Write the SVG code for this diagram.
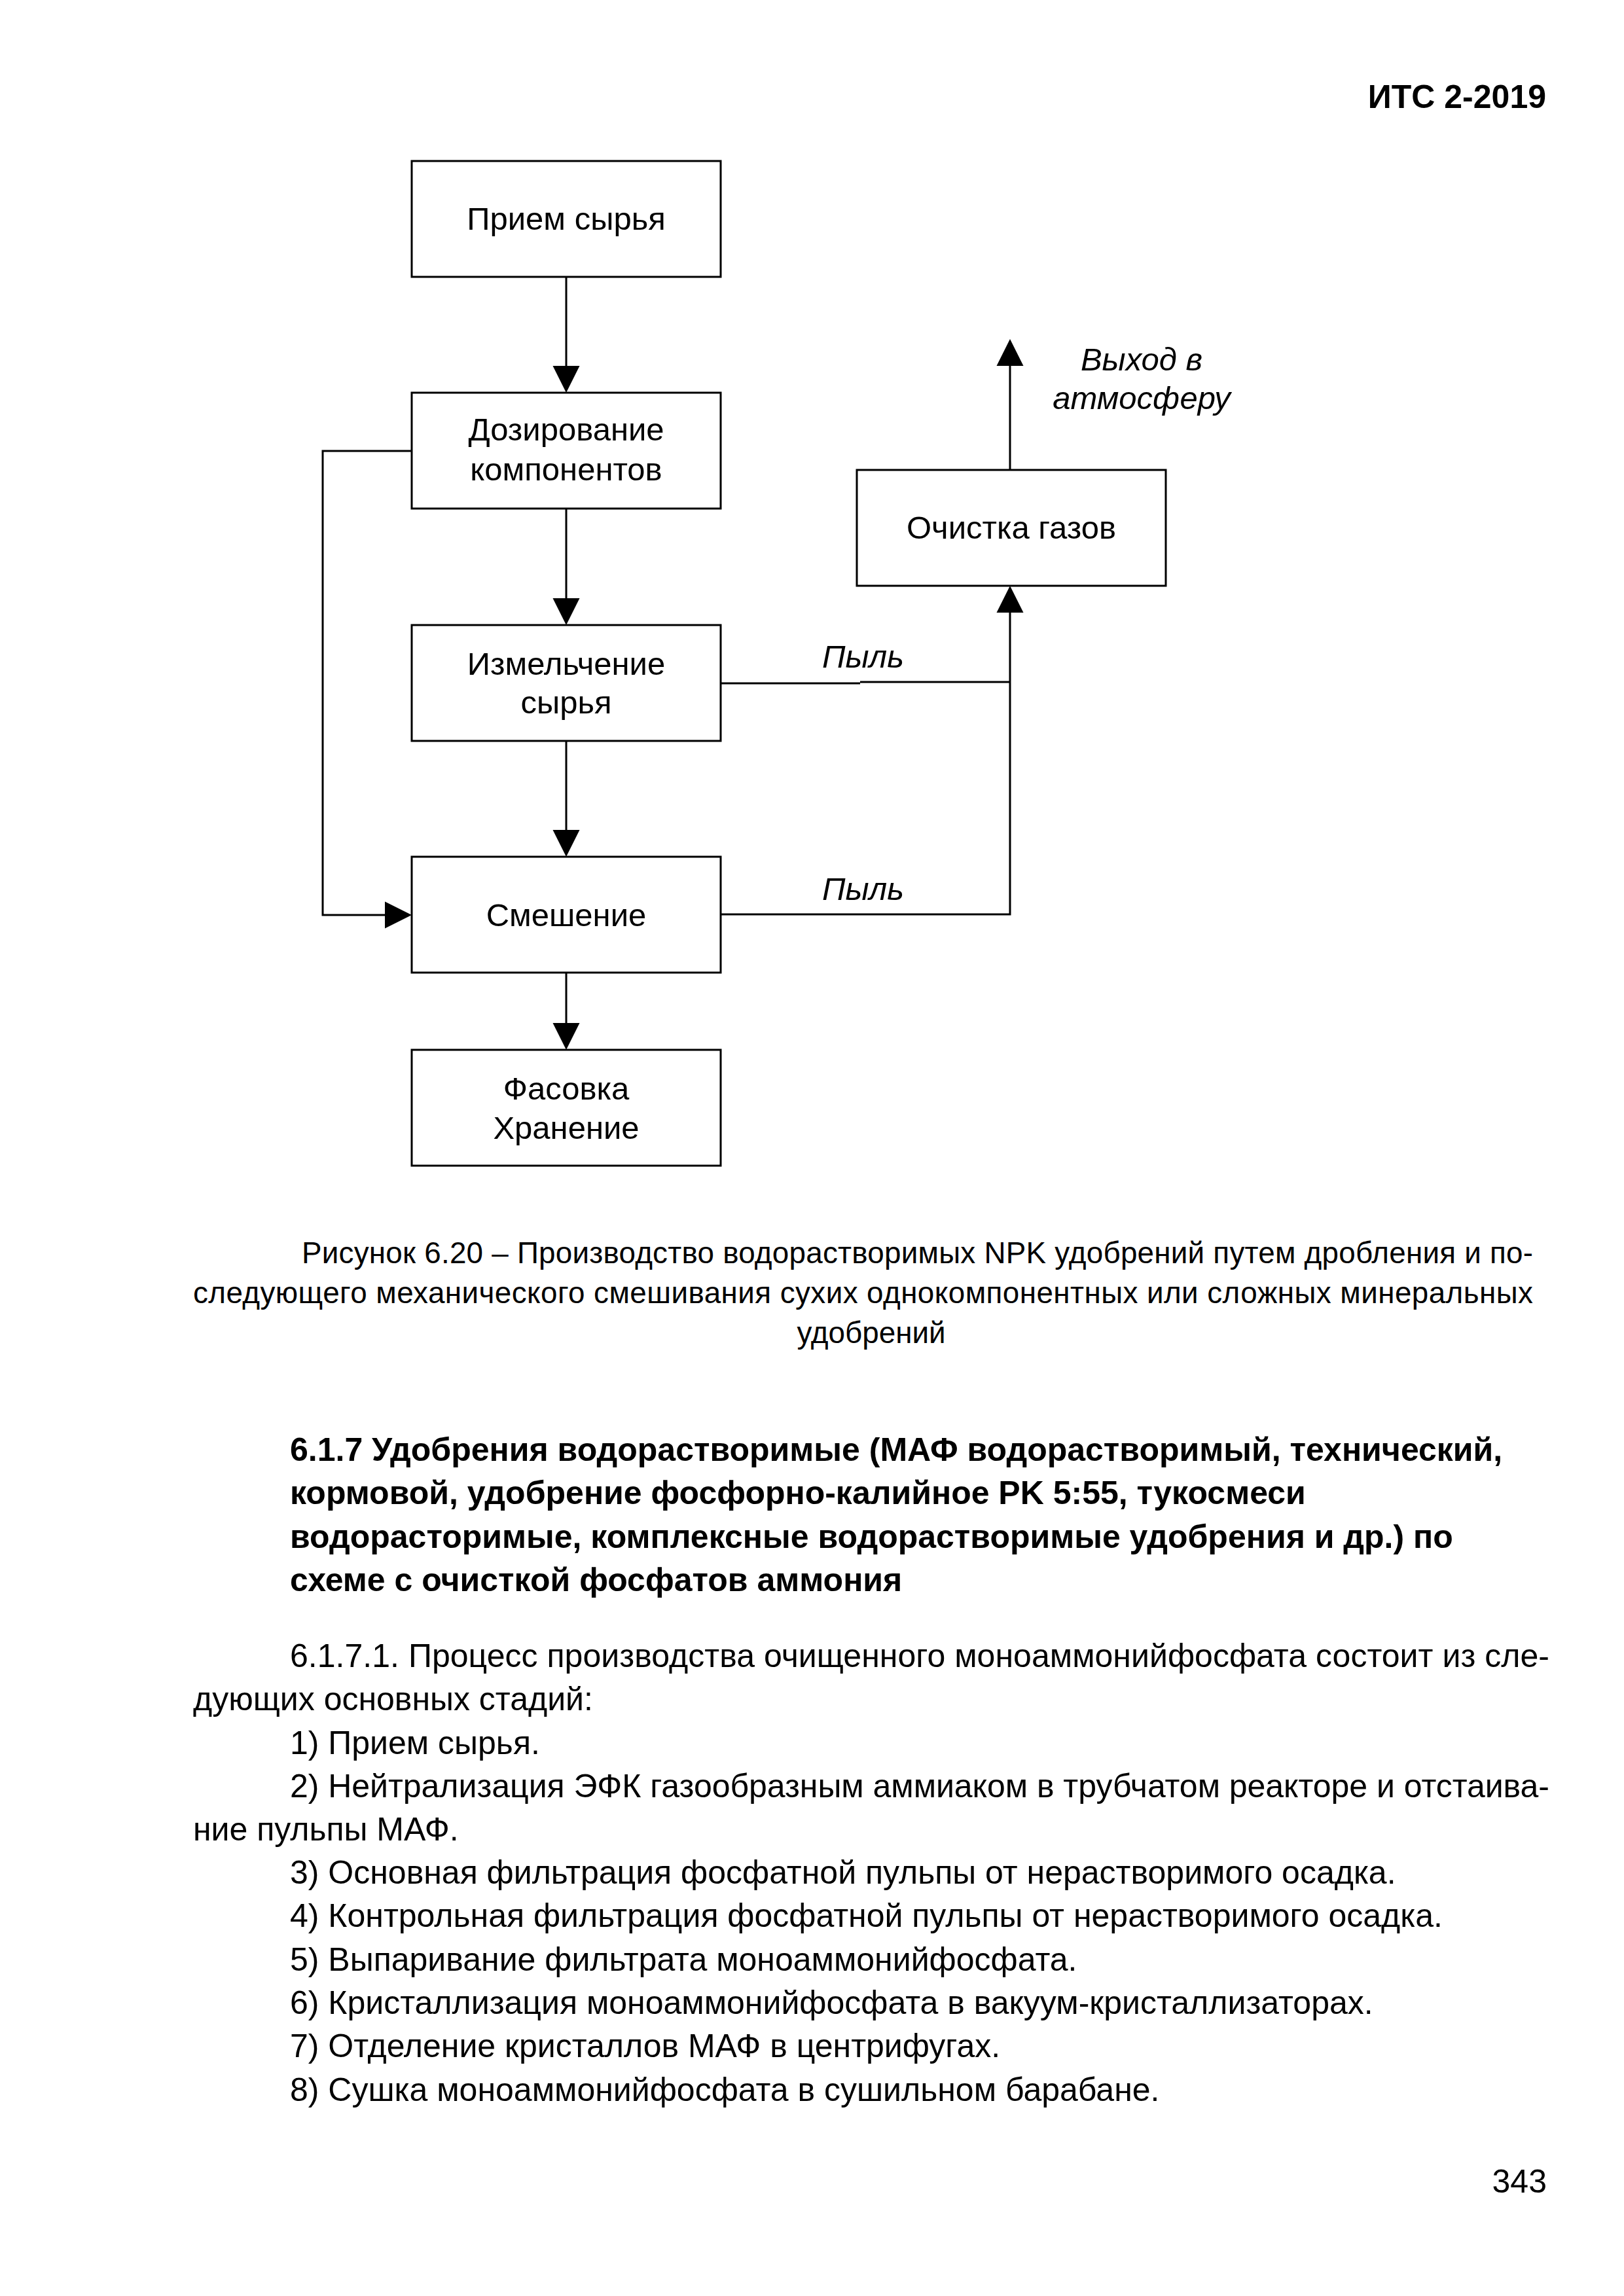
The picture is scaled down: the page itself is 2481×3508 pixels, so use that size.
<svg xmlns="http://www.w3.org/2000/svg" width="2481" height="3508" viewBox="0 0 2481 3508">
<style>
text{font-family:"Liberation Sans",Arial,sans-serif;fill:#000}
.box{fill:#fff;stroke:#000;stroke-width:3}
.n{font-size:49px;text-anchor:middle}
.lbl{font-size:49px;font-style:italic}
.conn{fill:none;stroke:#000;stroke-width:3}
.hdr{font-size:50px;font-weight:bold}
.cap{font-size:45.8px}
.body{font-size:50px}
</style>
<defs>
<marker id="ah" markerUnits="userSpaceOnUse" markerWidth="42" markerHeight="42" refX="0" refY="20.5" orient="auto" viewBox="0 0 42 41">
<path d="M0,0 L41,20.5 L0,41 z" fill="#000"/>
</marker>
</defs>
<rect width="2481" height="3508" fill="#fff"/>
<text class="hdr" x="2362" y="165" text-anchor="end">ИТС 2-2019</text>

<g id="connectors">
<line class="conn" x1="865" y1="423" x2="865" y2="559" marker-end="url(#ah)"/>
<line class="conn" x1="865" y1="777" x2="865" y2="914" marker-end="url(#ah)"/>
<line class="conn" x1="865" y1="1132" x2="865" y2="1268" marker-end="url(#ah)"/>
<line class="conn" x1="865" y1="1486" x2="865" y2="1563" marker-end="url(#ah)"/>
<line class="conn" x1="1543" y1="718" x2="1543" y2="559" marker-end="url(#ah)"/>
<path class="conn" d="M629,689 H493 V1398 H588" marker-end="url(#ah)"/>
<path class="conn" d="M1101,1044 H1314"/>
<path class="conn" d="M1314,1042 H1543"/>
<path class="conn" d="M1101,1397 H1543 V936" marker-end="url(#ah)"/>
<text class="lbl" x="1256" y="1020">Пыль</text>
<text class="lbl" x="1256" y="1375">Пыль</text>
<text class="lbl" x="1744" y="566" text-anchor="middle">Выход в</text>
<text class="lbl" x="1744" y="625" text-anchor="middle">атмосферу</text>
</g>

<g id="n1"><rect class="box" x="629" y="246" width="472" height="177"/><text class="n" x="865" y="351">Прием сырья</text></g>
<g id="n2"><rect class="box" x="629" y="600" width="472" height="177"/><text class="n" x="865" y="673">Дозирование</text><text class="n" x="865" y="734">компонентов</text></g>
<g id="n3"><rect class="box" x="629" y="955" width="472" height="177"/><text class="n" x="865" y="1031">Измельчение</text><text class="n" x="865" y="1090">сырья</text></g>
<g id="n4"><rect class="box" x="629" y="1309" width="472" height="177"/><text class="n" x="865" y="1415">Смешение</text></g>
<g id="n5"><rect class="box" x="629" y="1604" width="472" height="177"/><text class="n" x="865" y="1680">Фасовка</text><text class="n" x="865" y="1740">Хранение</text></g>
<g id="n6"><rect class="box" x="1309" y="718" width="472" height="177"/><text class="n" x="1545" y="823">Очистка газов</text></g>

<g id="caption">
<text class="cap" x="461" y="1930" textLength="1881" lengthAdjust="spacing">Рисунок 6.20 – Производство водорастворимых NPK удобрений путем дробления и по-</text>
<text class="cap" x="295" y="1991" textLength="2047" lengthAdjust="spacing">следующего механического смешивания сухих однокомпонентных или сложных минеральных</text>
<text class="cap" x="1331" y="2052" text-anchor="middle">удобрений</text>
</g>

<g id="heading">
<text class="hdr" x="443" y="2232">6.1.7 Удобрения водорастворимые (МАФ водорастворимый, технический,</text>
<text class="hdr" x="443" y="2298">кормовой, удобрение фосфорно-калийное PK 5:55, тукосмеси</text>
<text class="hdr" x="443" y="2365">водорасторимые, комплексные водорастворимые удобрения и др.) по</text>
<text class="hdr" x="443" y="2431">схеме с очисткой фосфатов аммония</text>
</g>

<g id="body">
<text class="body" x="443" y="2547" textLength="1924" lengthAdjust="spacing">6.1.7.1. Процесс производства очищенного моноаммонийфосфата состоит из сле-</text>
<text class="body" x="295" y="2613">дующих основных стадий:</text>
<text class="body" x="443" y="2680">1) Прием сырья.</text>
<text class="body" x="443" y="2746" textLength="1924" lengthAdjust="spacing">2) Нейтрализация ЭФК газообразным аммиаком в трубчатом реакторе и отстаива-</text>
<text class="body" x="295" y="2812">ние пульпы МАФ.</text>
<text class="body" x="443" y="2878">3) Основная фильтрация фосфатной пульпы от нерастворимого осадка.</text>
<text class="body" x="443" y="2944">4) Контрольная фильтрация фосфатной пульпы от нерастворимого осадка.</text>
<text class="body" x="443" y="3011">5) Выпаривание фильтрата моноаммонийфосфата.</text>
<text class="body" x="443" y="3077">6) Кристаллизация моноаммонийфосфата в вакуум-кристаллизаторах.</text>
<text class="body" x="443" y="3143">7) Отделение кристаллов МАФ в центрифугах.</text>
<text class="body" x="443" y="3210">8) Сушка моноаммонийфосфата в сушильном барабане.</text>
</g>

<text class="body" x="2363" y="3350" text-anchor="end">343</text>
</svg>
